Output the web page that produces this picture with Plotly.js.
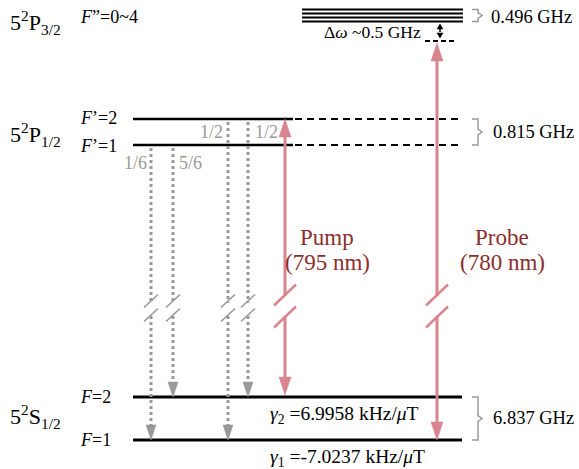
<!DOCTYPE html>
<html><head><meta charset="utf-8">
<script src="https://cdn.plot.ly/plotly-3.0.1.min.js"></script>
<style>html,body{margin:0;padding:0;background:#fff}#chart{width:579px;height:469px}</style>
</head><body><div id="chart"></div>
<script>
// ---------- data ----------
const manifolds = ['5<sup>2</sup>P<sub>3/2</sub>', '5<sup>2</sup>P<sub>1/2</sub>', '5<sup>2</sup>S<sub>1/2</sub>'];
const excitedLabel = '<i>F</i>”=0~4';
const levelLabels = ['<i>F</i>’=2', '<i>F</i>’=1', '<i>F</i>=2', '<i>F</i>=1'];
const splittingGHz = [0.496, 0.815, 6.837];
const branchingRatios = ['1/6', '5/6', '1/2', '1/2'];
const gammaNames = ['<i>γ</i><sub>2</sub>', '<i>γ</i><sub>1</sub>'];
const gammaValues = ['6.9958', '-7.0237'];
const detuningLabel = 'Δ<i>ω</i> ~0.5 GHz';
const laserNames = ['Pump', 'Probe'];
const wavelengthsNm = [795, 780];

// ---------- geometry / style ----------
const W = 579, H = 469;
const FONT = '"Liberation Serif", "Times New Roman", serif';
const PINK = '#d9858f', DARKRED = '#8b2d2d', GRAY = '#999999', BLACK = '#000000';
const Y = {p32: [9.5, 13.5, 17.5, 21.5], F2p: 119, F1p: 145, F2: 397, F1: 440};
const X0 = 133, SOLID_END = 293, DASH_END = 459, GROUND_END = 462, P32X = [302, 463];
const decayX = [151, 173, 228, 248];
const decayFrom = [Y.F1p + 3, Y.F1p + 3, Y.F2p + 3, Y.F2p + 3];
const decayTo = [Y.F1, Y.F2, Y.F1, Y.F2];
const pumpX = 285, probeX = 437;
const probeTop = 43;
const breakGray = {top: 303, bot: 316};
const breakPink = {top: 296, bot: 316};

const traces = [];
function line(xs, ys, color, width, dash) {
  traces.push({type: 'scatter', mode: 'lines', x: xs, y: ys, hoverinfo: 'skip',
    line: {color: color, width: width, dash: dash || 'solid'}});
}
function head(x, tipY, dir, w, h, color) { // dir=+1 points down, -1 points up
  const b = tipY - dir * h;
  traces.push({type: 'scatter', mode: 'lines', x: [x - w / 2, x + w / 2, x, x - w / 2],
    y: [b, b, tipY, b], fill: 'toself', fillcolor: color, hoverinfo: 'skip',
    line: {color: color, width: 0.5}});
  return b;
}
function slashes(x, y1, y2, half, rise, color, width) {
  line([x - half, x + half], [y1 + rise / 2, y1 - rise / 2], color, width);
  line([x - half, x + half], [y2 + rise / 2, y2 - rise / 2], color, width);
}
function bracket(x, y1, y2, color) {
  const m = (y1 + y2) / 2;
  line([x, x + 6, x + 6, x + 10, x + 6, x + 6, x], [y1, y1, m - 3, m, m + 3, y2, y2], color, 1.5);
}

// P3/2 manifold lines
Y.p32.forEach(y => line(P32X, [y, y], BLACK, 2.2));
// P1/2 levels (solid + dashed continuation)
[Y.F2p, Y.F1p].forEach(y => {
  line([X0, SOLID_END], [y, y], BLACK, 2.5);
  line([SOLID_END + 2, DASH_END], [y, y], BLACK, 2, '7px,5px');
});
// S1/2 levels
[Y.F2, Y.F1].forEach(y => line([X0, GROUND_END], [y, y], BLACK, 3.2));

// decay (dotted) arrows
decayX.forEach((x, i) => {
  const base = decayTo[i] - 14;
  line([x, x], [decayFrom[i], breakGray.top], GRAY, 3, 'dot');
  line([x, x], [breakGray.bot, base], GRAY, 3, 'dot');
  head(x, decayTo[i], 1, 10, 15, GRAY);
  slashes(x, 301, 315, 7, 13, GRAY, 1.6);
});

// pump arrow
const pTop = head(pumpX, Y.F2p, -1, 12, 18, PINK);
const pBot = head(pumpX, Y.F2 - 2, 1, 12, 18, PINK);
line([pumpX, pumpX], [pTop, breakPink.top], PINK, 3);
line([pumpX, pumpX], [breakPink.bot, pBot], PINK, 3);
slashes(pumpX, 295, 317, 11, 21, PINK, 2.5);

// probe arrow
const qTop = head(probeX, probeTop, -1, 12, 18, PINK);
const qBot = head(probeX, Y.F1, 1, 12, 18, PINK);
line([probeX, probeX], [qTop, breakPink.top], PINK, 3);
line([probeX, probeX], [breakPink.bot, qBot], PINK, 3);
slashes(probeX, 295, 317, 11, 21, PINK, 2.5);

// detuning marker
line([425, 455], [41, 41], BLACK, 2, '5px,3px');
const dA = head(440, 24, -1, 6, 5, BLACK);
const dB = head(440, 38, 1, 6, 5, BLACK);
line([440, 440], [dA, dB], BLACK, 1.5, 'dot');

// brackets
bracket(472, Y.p32[0], Y.p32[3], GRAY);
bracket(472, Y.F2p, Y.F1p, GRAY);
bracket(472, Y.F2, Y.F1, GRAY);

// ---------- text ----------
const ann = [];
function txt(x, y, text, size, color, xanchor) {
  ann.push({x: x, y: y, xref: 'x', yref: 'y', text: text, showarrow: false,
    xanchor: xanchor || 'left', yanchor: 'middle',
    font: {family: FONT, size: size, color: color || BLACK}});
}
txt(8, 22, manifolds[0], 22);
txt(8, 134, manifolds[1], 22);
txt(8, 416, manifolds[2], 22);
txt(78, 17, excitedLabel, 18);
txt(78, 118, levelLabels[0], 18);
txt(78, 146, levelLabels[1], 18);
txt(78, 397, levelLabels[2], 18);
txt(78, 440, levelLabels[3], 18);
txt(135, 163, branchingRatios[0], 18, GRAY, 'center');
txt(190, 163, branchingRatios[1], 18, GRAY, 'center');
txt(211, 132, branchingRatios[2], 18, GRAY, 'center');
txt(266, 132, branchingRatios[3], 18, GRAY, 'center');
txt(489, 17, splittingGHz[0].toFixed(3) + ' GHz', 18.5);
txt(491, 132, splittingGHz[1].toFixed(3) + ' GHz', 18.5);
txt(491, 418, splittingGHz[2].toFixed(3) + ' GHz', 18.5);
txt(372, 32, detuningLabel, 17.5, BLACK, 'center');
txt(327, 237, laserNames[0], 23, DARKRED, 'center');
txt(327, 262, '(' + wavelengthsNm[0] + ' nm)', 23, DARKRED, 'center');
txt(502, 237, laserNames[1], 23, DARKRED, 'center');
txt(502, 262, '(' + wavelengthsNm[1] + ' nm)', 23, DARKRED, 'center');
txt(268, 415, gammaNames[0] + ' =' + gammaValues[0] + ' kHz/<i>μ</i>T', 19.5);
txt(268, 458, gammaNames[1] + ' =' + gammaValues[1] + ' kHz/<i>μ</i>T', 19.5);

const layout = {
  width: W, height: H, margin: {l: 0, r: 0, t: 0, b: 0},
  paper_bgcolor: '#fff', plot_bgcolor: '#fff', showlegend: false,
  xaxis: {range: [0, W], visible: false, fixedrange: true},
  yaxis: {range: [H, 0], visible: false, fixedrange: true},
  annotations: ann
};
Plotly.newPlot('chart', traces, layout, {staticPlot: true, displayModeBar: false});
</script></body></html>
